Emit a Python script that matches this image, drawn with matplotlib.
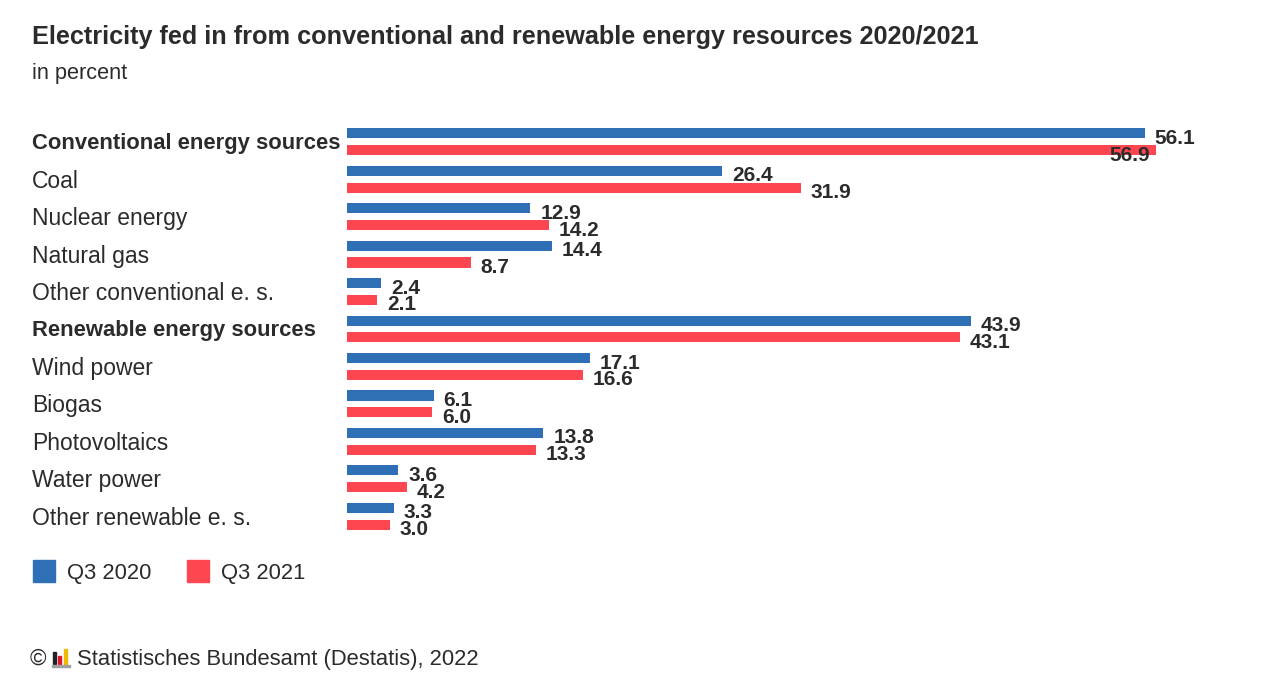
import matplotlib.pyplot as plt
from matplotlib.patches import Rectangle

categories = [
    "Conventional energy sources", "Coal", "Nuclear energy", "Natural gas",
    "Other conventional e. s.", "Renewable energy sources", "Wind power",
    "Biogas", "Photovoltaics", "Water power", "Other renewable e. s.",
]
bold_rows = [0, 5]
q3_2020 = [56.1, 26.4, 12.9, 14.4, 2.4, 43.9, 17.1, 6.1, 13.8, 3.6, 3.3]
q3_2021 = [56.9, 31.9, 14.2, 8.7, 2.1, 43.1, 16.6, 6.0, 13.3, 4.2, 3.0]
series_names = ["Q3 2020", "Q3 2021"]

BLUE = "#2e6fb6"
RED = "#fe4651"
TEXT = "#2b2b2b"

plt.rcParams['font.family'] = ['Liberation Sans', 'DejaVu Sans']

W, H = 1280, 694
fig = plt.figure(figsize=(W / 100, H / 100), dpi=100)

# axes in pixel geometry: left 347, right 1200, rows 142..516
top_px, bottom_px = 123, 535
ax = fig.add_axes([347 / W, 1 - bottom_px / H, (1200 - 347) / W, (bottom_px - top_px) / H])
ax.set_xlim(0, 60)
ax.set_ylim(len(categories) - 0.5, -0.5)
ax.axis("off")

off = 0.225
h = 0.27
ys = list(range(len(categories)))
ax.barh([y - off for y in ys], q3_2020, height=h, color=BLUE)
ax.barh([y + off for y in ys], q3_2021, height=h, color=RED)

# labels that would run past the plot edge get pulled back inside the bar end
label_limit = 56.5


def value_label(v, y):
    if v > label_limit:
        ax.annotate(f"{v:.1f}", (v, y), xytext=(-6, -5), textcoords="offset pixels",
                    ha="right", va="center", fontsize=15, fontweight="bold", color=TEXT)
    else:
        ax.annotate(f"{v:.1f}", (v, y), xytext=(10, -5), textcoords="offset pixels",
                    ha="left", va="center", fontsize=15, fontweight="bold", color=TEXT)


for y, v in zip(ys, q3_2020):
    value_label(v, y - off)
for y, v in zip(ys, q3_2021):
    value_label(v, y + off)

for y, name in zip(ys, categories):
    is_bold = y in bold_rows
    ax.annotate(name, (0, y), xytext=(32, -2), xycoords=("figure pixels", "data"),
                textcoords="offset pixels", ha="left", va="center",
                fontsize=15.8 if is_bold else 16.5,
                fontweight="bold" if is_bold else "normal", color=TEXT)

# title and subtitle
fig.text(32 / W, 1 - 37 / H, "Electricity fed in from conventional and renewable energy resources 2020/2021",
         fontsize=18.2, fontweight="bold", color=TEXT, va="center", ha="left")
fig.text(32 / W, 1 - 74 / H, "in percent", fontsize=15.7, color=TEXT, va="center", ha="left")

# legend
for i, (name, col) in enumerate(zip(series_names, [BLUE, RED])):
    x0 = 33 + i * 154
    fig.patches.append(Rectangle((x0 / W, 1 - 582 / H), 22 / W, 22 / H,
                                 transform=fig.transFigure, color=col))
    fig.text((x0 + 34) / W, 1 - 573 / H, name, fontsize=15.8, color=TEXT, va="center", ha="left")

# footer with small logo
fig.text(30 / W, 1 - 659 / H, "\u00a9", fontsize=16, color=TEXT, va="center", ha="left")
logo = [(53, 652, 3, 12, "#222222"), (58, 656, 3, 8, "#d8192e"), (64, 649, 3, 15, "#f2b705")]
for lx, ly, lw, lh, lc in logo:
    fig.patches.append(Rectangle((lx / W, 1 - (ly + lh) / H), lw / W, lh / H,
                                 transform=fig.transFigure, color=lc))
fig.patches.append(Rectangle((52 / W, 1 - 667 / H), 18 / W, 2 / H,
                             transform=fig.transFigure, color="#a0a0a0"))
fig.text(77 / W, 1 - 659 / H, "Statistisches Bundesamt (Destatis), 2022", fontsize=15.8,
         color=TEXT, va="center", ha="left")

fig.savefig("out.png", dpi=100, facecolor="white")
